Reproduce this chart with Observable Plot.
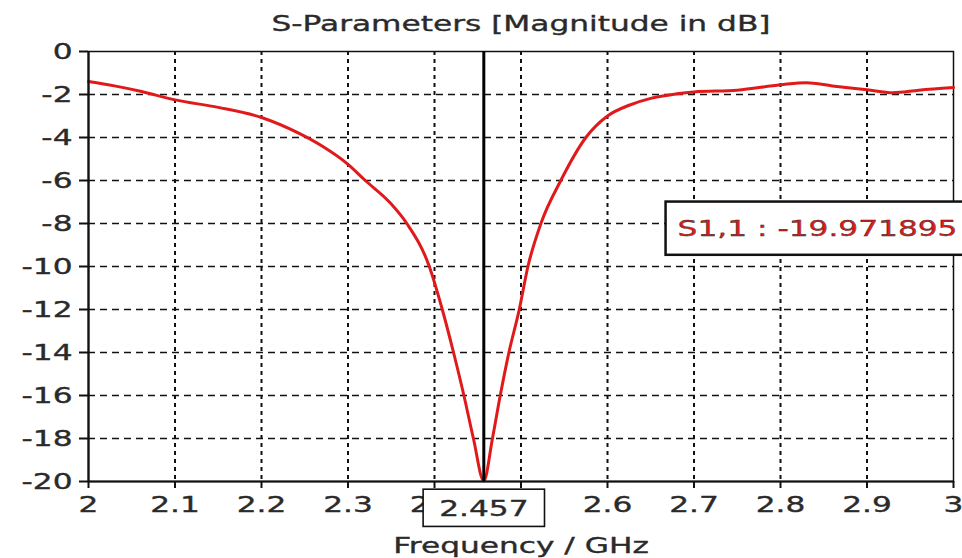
<!DOCTYPE html>
<html>
<head>
<meta charset="utf-8">
<script src="https://cdn.jsdelivr.net/npm/d3@7"></script>
<script src="https://cdn.jsdelivr.net/npm/@observablehq/plot@0.6"></script>
<style>
  html, body { margin: 0; padding: 0; background: #fff; overflow: hidden; }
</style>
</head>
<body>
<script>
// ---- data ----
const titleText = "S-Parameters [Magnitude in dB]";
const xLabelText = "Frequency / GHz";
const seriesName = "S1,1";

const freqs = [2.00, 2.03, 2.06, 2.10, 2.15, 2.20, 2.243, 2.27, 2.30, 2.320, 2.349, 2.368, 2.394, 2.409, 2.422, 2.434, 2.445, 2.457,
               2.467, 2.476, 2.486, 2.498, 2.508, 2.523, 2.546, 2.575, 2.60, 2.625, 2.65, 2.68, 2.70, 2.75, 2.80, 2.83, 2.86, 2.90, 2.93, 2.96, 3.00];
const s11 = [-1.40, -1.60, -1.85, -2.25, -2.60, -3.07, -3.80, -4.40, -5.25, -6.00, -7.05, -8.00, -10.0, -12.0, -14.0, -16.0, -18.0, -19.971895,
             -18.0, -16.0, -14.0, -12.0, -10.0, -8.0, -6.0, -4.0, -3.0, -2.5, -2.18, -1.97, -1.88, -1.8, -1.55, -1.45, -1.6, -1.78, -1.92, -1.8, -1.68];

const xDomain = [2, 3];
const yDomain = [-20, 0];
const xTicks = [2, 2.1, 2.2, 2.3, 2.4, 2.5, 2.6, 2.7, 2.8, 2.9, 3];
const yTicks = [0, -2, -4, -6, -8, -10, -12, -14, -16, -18, -20];
const xGrid = [2.1, 2.2, 2.3, 2.4, 2.5, 2.6, 2.7, 2.8, 2.9];
const yGrid = [-2, -4, -6, -8, -10, -12, -14, -16, -18];

const markerFreq = 2.457;
const markerValue = -19.971895;
const markerLabelAnchor = [2.681, -8.25]; // where the value readout sits

const data = freqs.map((f, i) => ({f, v: s11[i]}));

const RED = "#e01a1a";
const INK = "#2a2a2a";
const FONT = "DejaVu Sans, Verdana, sans-serif";
const STRETCH = 1.42;

const markerText = String(markerFreq);
const valueText = `${seriesName} : ${markerValue}`;

const plot = Plot.plot({
  width: 962,
  height: 558,
  marginLeft: 88,
  marginRight: 9,
  marginTop: 51,
  marginBottom: 77,
  style: {fontFamily: FONT, fontSize: "22px", color: INK, background: "#fff"},
  x: {domain: xDomain},
  y: {domain: yDomain},
  marks: [
    Plot.ruleY(yGrid, {stroke: "#111", strokeWidth: 1.6, strokeDasharray: "7,5"}),
    Plot.ruleX(xGrid, {stroke: "#111", strokeWidth: 2, strokeDasharray: "4,4"}),
    Plot.frame({stroke: "#111", strokeWidth: 1.5}),
    Plot.line(data, {x: "f", y: "v", stroke: RED, strokeWidth: 3, curve: "monotone-x"}),
    Plot.ruleX([xDomain[0]], {stroke: "#111", strokeWidth: 2.2}),
    Plot.ruleY([yDomain[0]], {stroke: "#111", strokeWidth: 2.2}),
    Plot.axisY({ticks: yTicks, tickSize: 9, tickPadding: 7, strokeWidth: 2, stroke: "#111",
                tickFormat: d => String(d), label: null, fontSize: 22, fill: INK}),
    Plot.axisX({ticks: xTicks, tickSize: 7, tickPadding: 8, strokeWidth: 2, stroke: "#111",
                tickFormat: d => String(+d.toFixed(1)), label: null, fontSize: 22, fill: INK}),
    Plot.ruleX([markerFreq], {stroke: "#000", strokeWidth: 3}),
    Plot.text([titleText], {frameAnchor: "top", dy: -28, lineAnchor: "middle", fontSize: 22, fill: INK}),
    Plot.text([xLabelText], {frameAnchor: "bottom", dy: 64, lineAnchor: "middle", fontSize: 22, fill: INK}),
    Plot.text([markerFreq], {x: d => d, frameAnchor: "bottom", dy: 27, lineAnchor: "middle", text: () => markerText,
                fontSize: 22, fill: INK}),
    Plot.text([markerValue], {x: () => markerLabelAnchor[0], y: () => markerLabelAnchor[1], textAnchor: "start", lineAnchor: "middle",
                text: () => valueText, fontSize: 22, fill: RED})
  ]
});

document.body.append(plot);

// horizontally stretch all text like the original screenshot
plot.querySelectorAll("text").forEach(t => {
  const x = parseFloat(t.getAttribute("x") || 0) || 0;
  const T = t.getAttribute("transform") || "";
  t.setAttribute("transform", `${T} translate(${x},0) scale(${STRETCH},1)`);
  t.setAttribute("x", 0);
});
plot.querySelectorAll("text").forEach(t => {
  t.setAttribute("stroke", t.getAttribute("fill") || INK);
  t.setAttribute("stroke-width", 0.35);
});

// boxes behind the readout labels
const sr = plot.getBoundingClientRect();
function boxFor(content, padX, padY, sw) {
  const t = Array.from(plot.querySelectorAll("text")).find(e => e.textContent === content);
  if (!t) return;
  let g = t;
  while (g.parentNode && g.parentNode !== plot) g = g.parentNode;
  const r = t.getBoundingClientRect();
  const rect = document.createElementNS("http://www.w3.org/2000/svg", "rect");
  rect.setAttribute("x", r.left - sr.left - padX);
  rect.setAttribute("y", r.top - sr.top - padY);
  rect.setAttribute("width", r.width + 2 * padX);
  rect.setAttribute("height", r.height + 2 * padY);
  rect.setAttribute("fill", "#fff");
  rect.setAttribute("stroke", "#111");
  rect.setAttribute("stroke-width", sw);
  plot.insertBefore(rect, g);
}
boxFor(markerText, 16, 6, 1.6);
boxFor(valueText, 12, 14, 2.5);
</script>
</body>
</html>
